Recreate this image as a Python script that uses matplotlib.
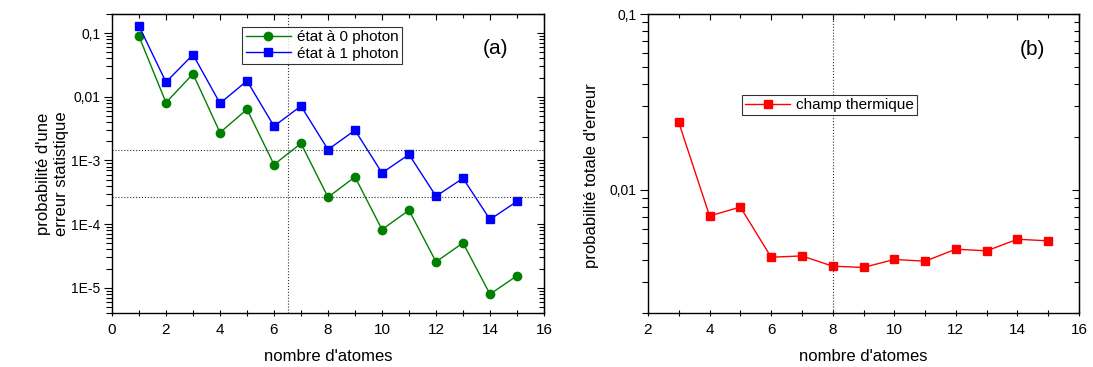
import matplotlib
matplotlib.use("Agg")
import matplotlib.pyplot as plt
import matplotlib.ticker as mticker
import numpy as np

plt.rcParams['font.family'] = ['Liberation Sans', 'DejaVu Sans']

atoms_a = [1, 2, 3, 4, 5, 6, 7, 8, 9, 10, 11, 12, 13, 14, 15]
etat0 = [0.089, 0.0081, 0.0229, 0.00274, 0.00636, 8.6e-4, 1.85e-3, 2.64e-4,
         5.5e-4, 8.2e-5, 1.65e-4, 2.55e-5, 5.05e-5, 7.9e-6, 1.54e-5]
etat1 = [0.129, 0.017, 0.046, 0.0079, 0.0178, 0.00345, 0.00716, 0.00148,
         0.00298, 6.36e-4, 1.24e-3, 2.74e-4, 5.24e-4, 1.18e-4, 2.27e-4]
hlines_a = [1.48e-3, 2.64e-4]
vline_a = 6.5

atoms_b = [3, 4, 5, 6, 7, 8, 9, 10, 11, 12, 13, 14, 15]
thermique = [0.0242, 0.00712, 0.0080, 0.00415, 0.00422, 0.00369, 0.00363,
             0.00403, 0.00394, 0.00461, 0.00451, 0.00525, 0.00514]
vline_b = 8

ticks_a = [0.1, 0.01, 1e-3, 1e-4, 1e-5]
ticklabels_a = ['0,1', '0,01', '1E-3', '1E-4', '1E-5']
ticks_b = [0.1, 0.01]
ticklabels_b = ['0,1', '0,01']

fig = plt.figure(figsize=(10.93, 3.67), dpi=100)
W, H = 1093, 367
axA = fig.add_axes([112 / W, 1 - 313 / H, (544 - 112) / W, (313 - 14) / H])
axB = fig.add_axes([648 / W, 1 - 313 / H, (1079 - 648) / W, (313 - 14) / H])

fs = 11
minor_subs = np.arange(2, 10)


def style(ax, xticks, yticks, yticklabels):
    ax.set_xticks(xticks)
    ax.xaxis.set_minor_locator(mticker.MultipleLocator(1))
    ax.set_yticks(yticks)
    ax.set_yticklabels(yticklabels)
    ax.yaxis.set_minor_locator(mticker.LogLocator(base=10, subs=minor_subs))
    ax.yaxis.set_minor_formatter(mticker.NullFormatter())
    ax.tick_params(axis='y', which='major', direction='out', length=6, width=0.8,
                   labelsize=10, pad=2.5)
    ax.tick_params(axis='y', which='minor', direction='out', length=4, width=0.8)
    ax.tick_params(axis='x', which='major', direction='inout', length=5, width=0.8,
                   labelsize=fs, pad=4.5)
    ax.tick_params(axis='x', which='minor', direction='inout', length=4, width=0.8)
    for s in ax.spines.values():
        s.set_linewidth(1.0)
    # top and right ticks pointing inward
    sx = ax.secondary_xaxis('top')
    sx.set_xticks(xticks)
    sx.xaxis.set_minor_locator(mticker.MultipleLocator(1))
    sx.tick_params(which='major', direction='in', length=4, width=0.8, labeltop=False)
    sx.tick_params(which='minor', direction='in', length=3, width=0.8)
    sy = ax.secondary_yaxis('right')
    sy.set_yticks(yticks)
    sy.yaxis.set_minor_locator(mticker.LogLocator(base=10, subs=minor_subs))
    sy.yaxis.set_minor_formatter(mticker.NullFormatter())
    sy.tick_params(which='major', direction='in', length=5, width=0.8, labelright=False)
    sy.tick_params(which='minor', direction='in', length=3.5, width=0.8)


# Panel (a)
axA.plot(atoms_a, etat0, '-o', color='#008000', lw=1, ms=6, label='état à 0 photon')
axA.plot(atoms_a, etat1, '-s', color='#0000ff', lw=1, ms=5.5, label='état à 1 photon')
for h in hlines_a:
    axA.axhline(h, color='#333333', ls=':', lw=0.8)
axA.axvline(vline_a, color='#333333', ls=':', lw=0.8)
axA.set_yscale('log')
axA.set_xlim(0, 16)
axA.set_ylim(4e-6, 0.2)
style(axA, np.arange(0, 17, 2), ticks_a, ticklabels_a)
axA.set_xlabel("nombre d'atomes", fontsize=12, labelpad=9)
axA.set_ylabel("probabilité d'une\nerreur statistique", fontsize=12, linespacing=1.3)
axA.yaxis.set_label_coords(-0.099, 0.465)
leg = axA.legend(loc='upper left', bbox_to_anchor=(0.302, 0.958), fontsize=11,
                 frameon=True, fancybox=False, edgecolor='black',
                 borderpad=0.25, borderaxespad=0, handlelength=2.9,
                 handletextpad=0.4, labelspacing=0.15)
leg.get_frame().set_linewidth(0.8)
axA.text(0.887, 0.886, '(a)', transform=axA.transAxes, fontsize=15,
         ha='center', va='center')

# Panel (b)
axB.plot(atoms_b, thermique, '-s', color='#ff0000', lw=1, ms=6, label='champ thermique')
axB.axvline(vline_b, color='#333333', ls=':', lw=0.8)
axB.set_yscale('log')
axB.set_xlim(2, 16)
axB.set_ylim(0.002, 0.1)
style(axB, np.arange(2, 17, 2), ticks_b, ticklabels_b)
axB.set_xlabel("nombre d'atomes", fontsize=12, labelpad=9)
axB.set_ylabel("probabilité totale d'erreur", fontsize=12)
axB.yaxis.set_label_coords(-0.113, 0.46)
legB = axB.legend(loc='upper left', bbox_to_anchor=(0.219, 0.729), fontsize=11,
                  frameon=True, fancybox=False, edgecolor='black',
                  borderpad=0.2, borderaxespad=0, handlelength=2.9,
                  handletextpad=0.4)
legB.get_frame().set_linewidth(0.8)
axB.text(0.891, 0.88, '(b)', transform=axB.transAxes, fontsize=15,
         ha='center', va='center')

fig.savefig('out.png', dpi=100)
